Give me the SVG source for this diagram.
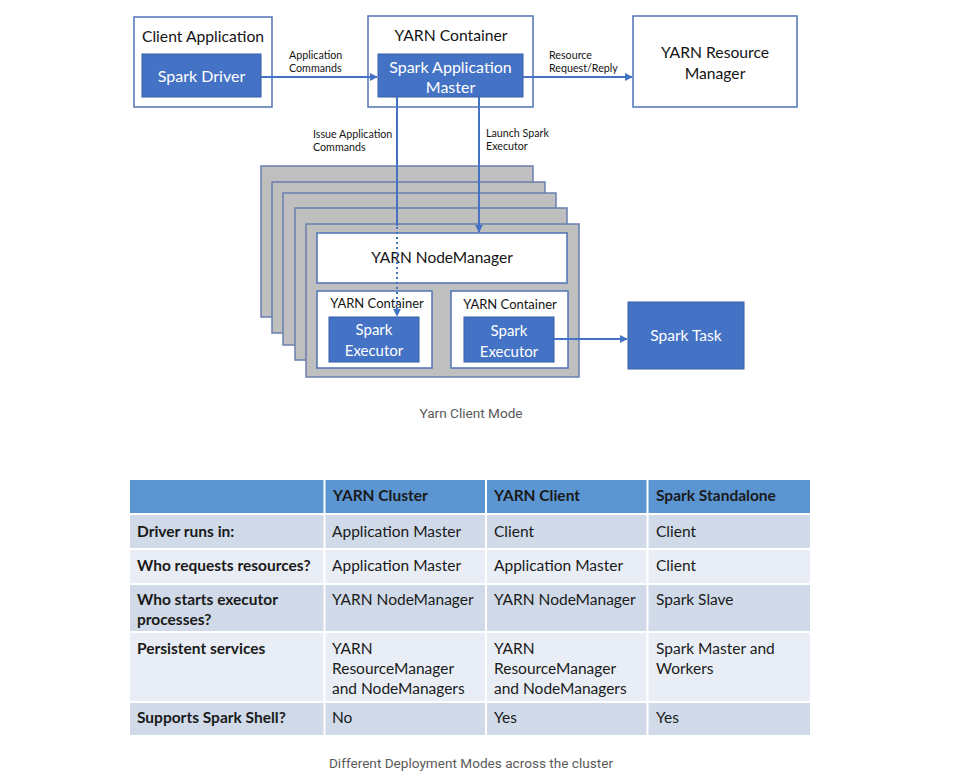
<svg xmlns="http://www.w3.org/2000/svg" width="955" height="776" viewBox="0 0 955 776">
<defs>
<style>
.bg{fill:#ffffff}
.box{fill:#ffffff;stroke:#4f74b8;stroke-width:1.5}
.blue{fill:#4472c4;stroke:#365fa8;stroke-width:1}
.stack{fill:#bfbfbf;stroke:#6a7fb0;stroke-width:1.5}
.t{font-family:Lato,"Liberation Sans",sans-serif;fill:#141414}
.w{fill:#ffffff}
.c{text-anchor:middle}
.lbl{font-size:10.7px}
.ln{stroke:#4472c4;stroke-width:2;fill:none}
.dot{stroke-dasharray:2 3}
.hdr{fill:#5b96d3}
.r1{fill:#d0dae9}
.r2{fill:#e9eef6}
.tb{font-family:Lato,"Liberation Sans",sans-serif;font-size:15.5px;fill:#1a1a1a}
.b{font-weight:bold}
.cap{font-family:Roboto,"Liberation Sans",sans-serif;font-size:13.6px;fill:#5a5a5a;text-anchor:middle}
</style>
<marker id="ah" viewBox="0 0 10 10" refX="9" refY="5" markerWidth="4" markerHeight="4" orient="auto" markerUnits="strokeWidth">
<path d="M0,0 L10,5 L0,10 z" fill="#4472c4"/>
</marker>
</defs>
<rect class="bg" x="0" y="0" width="955" height="776"/>

<g id="client-application">
<rect class="box" x="134" y="17" width="138" height="90"/>
<text class="t" x="203" y="42" font-size="15.7" text-anchor="middle">Client Application</text>
</g>
<g id="spark-driver">
<rect class="blue" x="142" y="54" width="119" height="43"/>
<text class="t w c" x="201.5" y="82" font-size="16">Spark Driver</text>
</g>

<g id="yarn-container-am">
<rect class="box" x="368" y="16" width="165" height="91"/>
<text class="t c" x="451" y="41" font-size="15.7">YARN Container</text>
</g>
<g id="spark-application-master">
<rect class="blue" x="378" y="54" width="145" height="43"/>
<text class="t w c" x="450.5" y="73" font-size="16">Spark Application</text>
<text class="t w c" x="450.5" y="93" font-size="16">Master</text>
</g>

<g id="yarn-resource-manager">
<rect class="box" x="633" y="16" width="164" height="91"/>
<text class="t c" x="715" y="58" font-size="15.7">YARN Resource</text>
<text class="t c" x="715" y="79" font-size="15.7">Manager</text>
</g>

<g id="node-stack">
<rect class="stack" x="261" y="166" width="272" height="151"/>
<rect class="stack" x="272" y="182" width="273" height="151"/>
<rect class="stack" x="283" y="193" width="273" height="152"/>
<rect class="stack" x="295" y="208" width="272" height="152"/>
<rect class="stack" x="306" y="224" width="273" height="153"/>
</g>
<g id="yarn-nodemanager">
<rect class="box" x="317" y="233" width="250" height="50"/>
<text class="t c" x="442" y="263" font-size="15.5">YARN NodeManager</text>
</g>
<g id="yarn-container-1">
<rect class="box" x="317" y="291" width="115" height="77"/>
<text class="t c" x="377" y="308" font-size="13">YARN Container</text>
</g>
<g id="spark-executor-1">
<rect class="blue" x="329" y="317" width="90" height="45"/>
<text class="t w c" x="374" y="335" font-size="15">Spark</text>
<text class="t w c" x="374" y="356" font-size="15">Executor</text>
</g>
<g id="yarn-container-2">
<rect class="box" x="451" y="291" width="117" height="77"/>
<text class="t c" x="510" y="309" font-size="13">YARN Container</text>
</g>
<g id="spark-executor-2">
<rect class="blue" x="464" y="317" width="90" height="45"/>
<text class="t w c" x="509" y="336" font-size="15">Spark</text>
<text class="t w c" x="509" y="357" font-size="15">Executor</text>
</g>
<g id="spark-task">
<rect class="blue" x="628" y="302" width="116" height="67"/>
<text class="t w c" x="686" y="341" font-size="15.5">Spark Task</text>
</g>

<g id="connectors">
<line class="ln" x1="261" y1="77" x2="377" y2="77" marker-end="url(#ah)"/>
<text class="t lbl" x="289" y="59">Application</text>
<text class="t lbl" x="289" y="72">Commands</text>
<line class="ln" x1="523" y1="77" x2="632" y2="77" marker-end="url(#ah)"/>
<text class="t lbl" x="549" y="59">Resource</text>
<text class="t lbl" x="549" y="72">Request/Reply</text>
<line class="ln" x1="397" y1="97" x2="397" y2="226"/>
<line class="ln dot" x1="397" y1="227" x2="397" y2="316" marker-end="url(#ah)"/>
<text class="t lbl" x="313" y="138">Issue Application</text>
<text class="t lbl" x="313" y="151">Commands</text>
<line class="ln" x1="479" y1="97" x2="479" y2="232" marker-end="url(#ah)"/>
<text class="t lbl" x="486" y="137">Launch Spark</text>
<text class="t lbl" x="486" y="150">Executor</text>
<line class="ln" x1="554" y1="339" x2="627" y2="339" marker-end="url(#ah)"/>
</g>

<text class="cap" x="471" y="418">Yarn Client Mode</text>

<g id="table">
<rect class="hdr" x="130" y="480" width="680" height="33"/>
<rect class="r1" x="130" y="515" width="680" height="33"/>
<rect class="r2" x="130" y="550" width="680" height="33"/>
<rect class="r1" x="130" y="585" width="680" height="46"/>
<rect class="r2" x="130" y="633" width="680" height="68"/>
<rect class="r1" x="130" y="703" width="680" height="32"/>
<rect x="323.5" y="480" width="2" height="255" fill="#ffffff"/>
<rect x="485" y="480" width="2" height="255" fill="#ffffff"/>
<rect x="646.5" y="480" width="2" height="255" fill="#ffffff"/>

<text class="tb b w" x="333" y="501">YARN Cluster</text>
<text class="tb b w" x="494" y="501">YARN Client</text>
<text class="tb b w" x="656" y="501">Spark Standalone</text>

<text class="tb b" x="137" y="537">Driver runs in:</text>
<text class="tb" x="332" y="537">Application Master</text>
<text class="tb" x="494" y="537">Client</text>
<text class="tb" x="656" y="537">Client</text>

<text class="tb b" x="137" y="571">Who requests resources?</text>
<text class="tb" x="332" y="571">Application Master</text>
<text class="tb" x="494" y="571">Application Master</text>
<text class="tb" x="656" y="571">Client</text>

<text class="tb b" x="137" y="605">Who starts executor</text>
<text class="tb b" x="137" y="625">processes?</text>
<text class="tb" x="332" y="605">YARN NodeManager</text>
<text class="tb" x="494" y="605">YARN NodeManager</text>
<text class="tb" x="656" y="605">Spark Slave</text>

<text class="tb b" x="137" y="654">Persistent services</text>
<text class="tb" x="332" y="654">YARN</text>
<text class="tb" x="332" y="674">ResourceManager</text>
<text class="tb" x="332" y="694">and NodeManagers</text>
<text class="tb" x="494" y="654">YARN</text>
<text class="tb" x="494" y="674">ResourceManager</text>
<text class="tb" x="494" y="694">and NodeManagers</text>
<text class="tb" x="656" y="654">Spark Master and</text>
<text class="tb" x="656" y="674">Workers</text>

<text class="tb b" x="137" y="723">Supports Spark Shell?</text>
<text class="tb" x="332" y="723">No</text>
<text class="tb" x="494" y="723">Yes</text>
<text class="tb" x="656" y="723">Yes</text>
</g>

<text class="cap" x="471" y="768">Different Deployment Modes across the cluster</text>
</svg>
